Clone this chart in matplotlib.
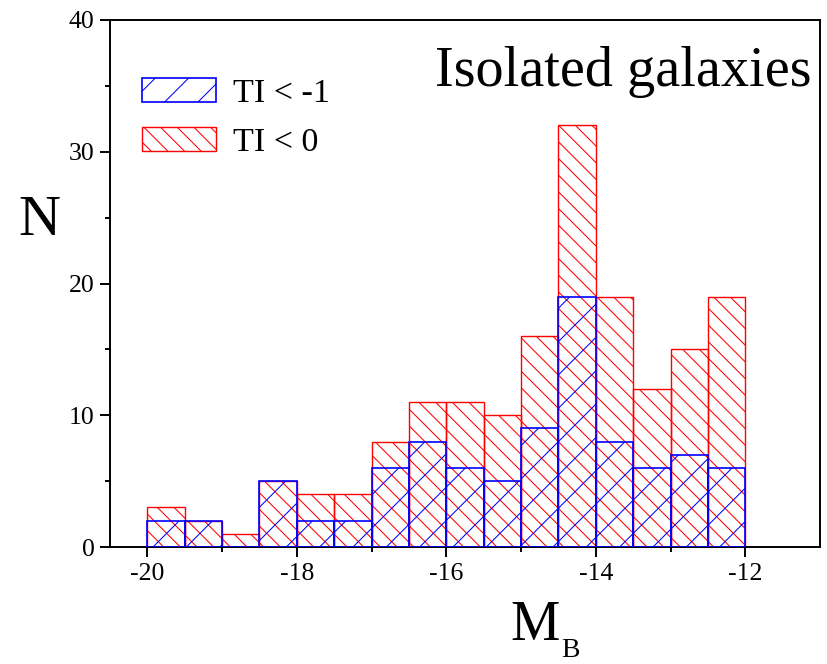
import matplotlib
matplotlib.use("Agg")
import matplotlib.pyplot as plt
from matplotlib.ticker import FixedLocator
from matplotlib.patches import Patch

# Absolute B magnitude bins (left edges, width 0.5 mag)
bin_left = [-20.0, -19.5, -19.0, -18.5, -18.0, -17.5, -17.0, -16.5,
            -16.0, -15.5, -15.0, -14.5, -14.0, -13.5, -13.0, -12.5]
bin_width = 0.5
counts_ti_lt0 = [3, 2, 1, 5, 4, 4, 8, 11, 11, 10, 16, 32, 19, 12, 15, 19]
counts_ti_ltm1 = [2, 2, 0, 5, 2, 2, 6, 8, 6, 5, 9, 19, 8, 6, 7, 6]
x_major = [-20, -18, -16, -14, -12]
x_minor = [-19, -17, -15, -13]
y_major = [0, 10, 20, 30, 40]
y_minor = [5, 15, 25, 35]

DPI = 100
W, H = 827, 664
plt.rcParams["font.family"] = ["Liberation Serif", "DejaVu Serif"]
plt.rcParams["hatch.linewidth"] = 0.75

RED = "#ff0000"
BLUE = "#0000ff"
RED_HATCH = "\\\\"
BLUE_HATCH = "/"

fig = plt.figure(figsize=(W / DPI, H / DPI), dpi=DPI)
ax = fig.add_axes([110 / W, 1 - 547 / H, 710 / W, 527 / H])

ax.bar(bin_left, counts_ti_lt0, width=bin_width, align="edge",
       fill=False, edgecolor=RED, hatch=RED_HATCH, linewidth=1.0, zorder=2)
ax.bar(bin_left, counts_ti_ltm1, width=bin_width, align="edge",
       fill=False, edgecolor=BLUE, hatch=BLUE_HATCH, linewidth=1.2, zorder=3)

ax.set_xlim(-20.5, -11.0)
ax.set_ylim(0, 40)
ax.xaxis.set_major_locator(FixedLocator(x_major))
ax.xaxis.set_minor_locator(FixedLocator(x_minor))
ax.yaxis.set_major_locator(FixedLocator(y_major))
ax.yaxis.set_minor_locator(FixedLocator(y_minor))
ax.set_xticklabels([str(v) for v in x_major])
ax.set_yticklabels([str(v) for v in y_major])

for s in ax.spines.values():
    s.set_linewidth(1.4)
ax.tick_params(which="major", direction="out", length=7.2, width=1.4,
               labelsize=18.5, pad=4)
ax.tick_params(which="minor", direction="out", length=3.8, width=1.4)
ax.tick_params(top=False, right=False, which="both")

# Axis titles
fig.text(39 / W, 1 - 235 / H, "N", ha="center", va="baseline", fontsize=42)
fig.text(510 / W, 1 - 640 / H, "M", ha="left", va="baseline", fontsize=40)
fig.text(561 / W, 1 - 657 / H, "B", ha="left", va="baseline", fontsize=20)

ax.text((812 - 110) / 710, (547 - 86) / 527, "Isolated galaxies",
        transform=ax.transAxes, ha="right", va="baseline", fontsize=40.5)

handles = [
    Patch(facecolor="none", edgecolor=BLUE, hatch=BLUE_HATCH, linewidth=1.2,
          label="TI < -1"),
    Patch(facecolor="none", edgecolor=RED, hatch=RED_HATCH,
          linewidth=1.0, label="TI < 0"),
]
ax.legend(handles=handles, loc="upper left", bbox_to_anchor=(0.045, 0.89),
          frameon=False, fontsize=24.5, handlelength=2.17, handleheight=0.7,
          handletextpad=0.5, labelspacing=0.53, borderpad=0,
          borderaxespad=0)

fig.savefig("out.png", dpi=DPI)
